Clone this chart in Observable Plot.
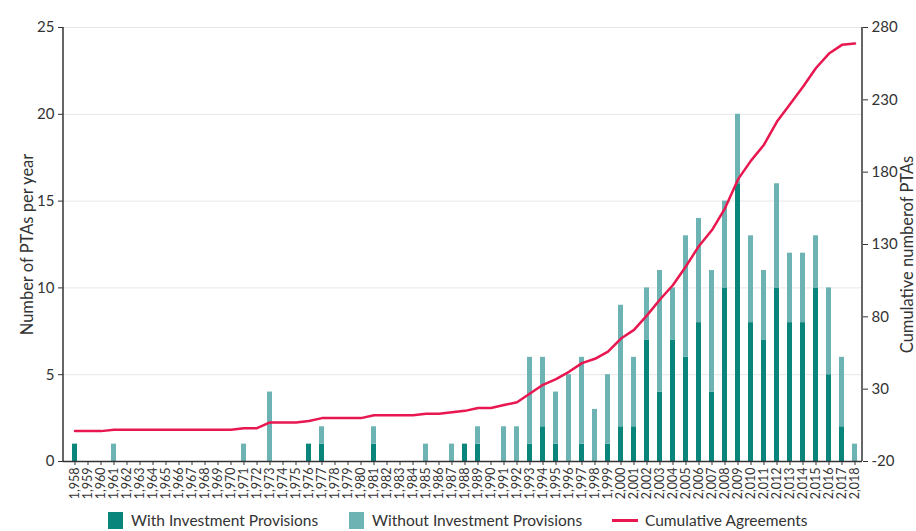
<!DOCTYPE html>
<html><head><meta charset="utf-8">
<script src="https://cdn.jsdelivr.net/npm/d3@7"></script>
<script src="https://cdn.jsdelivr.net/npm/@observablehq/plot@0.6"></script>
<style>
body{margin:0;background:#fff;font-family:Lato,"Open Sans",sans-serif;}
#legend{position:relative;height:29px;width:916px;font-size:15.5px;color:#333;}
#legend .item{position:absolute;top:9px;display:flex;align-items:center;white-space:nowrap;}
#legend .sw{display:inline-block;width:15px;height:17px;margin-right:8px;}
#legend .ln{display:inline-block;width:26px;height:3px;margin-right:7px;}
</style></head><body><div id="chart"></div><div id="legend"></div>
<script>
const years = [1958,1959,1960,1961,1962,1963,1964,1965,1966,1967,1968,1969,1970,1971,1972,1973,1974,1975,1976,1977,1978,1979,1980,1981,1982,1983,1984,1985,1986,1987,1988,1989,1990,1991,1992,1993,1994,1995,1996,1997,1998,1999,2000,2001,2002,2003,2004,2005,2006,2007,2008,2009,2010,2011,2012,2013,2014,2015,2016,2017,2018];
const withInv = [1,0,0,0,0,0,0,0,0,0,0,0,0,0,0,0,0,0,1,1,0,0,0,1,0,0,0,0,0,0,1,1,0,0,0,1,2,1,0,1,0,1,2,2,7,4,7,6,8,4,10,16,8,7,10,8,8,10,5,2,0];
const withoutInv = [0,0,0,1,0,0,0,0,0,0,0,0,0,1,0,4,0,0,0,1,0,0,0,1,0,0,0,1,0,1,0,1,0,2,2,5,4,3,5,5,3,4,7,4,3,7,3,7,6,7,5,4,5,4,6,4,4,3,5,4,1];
const cumulative = [1,1,1,2,2,2,2,2,2,2,2,2,2,3,3,7,7,7,8,10,10,10,10,12,12,12,12,13,13,14,15,17,17,19,21,27,33,37,42,48,51,56,65,71,81,92,102,115,129,140,155,175,188,199,215,227,239,252,262,268,269];
const leftTicks = [0,5,10,15,20,25];
const rightTicks = [-20,30,80,130,180,230,280];
const leftLabel = "Number of PTAs per year";
const rightLabel = "Cumulative numberof PTAs";
const seriesNames = ["With Investment Provisions","Without Investment Provisions","Cumulative Agreements"];
const colors = ["#0a857c","#6db3b4","#e8174f"];

const lMax = leftTicks[leftTicks.length-1];
const rMin = rightTicks[0], rMax = rightTicks[rightTicks.length-1];
const toLeft = v => (v - rMin) * lMax / (rMax - rMin);
const fromLeft = v => v * (rMax - rMin) / lMax + rMin;

const barData = years.flatMap((y,i)=>[
  {year:y, type:seriesNames[0], count:withInv[i]},
  {year:y, type:seriesNames[1], count:withoutInv[i]}
]);
const lineData = years.map((y,i)=>({year:y, cum:cumulative[i]}));

const chart = Plot.plot({
  width:916, height:502, marginTop:27, marginBottom:41, marginLeft:63, marginRight:54,
  style:{fontFamily:"Lato, 'Open Sans', sans-serif", fontSize:"14px", color:"#333", background:"white"},
  x:{type:"band", domain:years, paddingInner:0.62, paddingOuter:0.455, align:0.66},
  y:{domain:[0,lMax]},
  color:{domain:seriesNames.slice(0,2), range:colors.slice(0,2)},
  marks:[
    Plot.gridY(leftTicks.slice(1), {stroke:"#d0d0d0", strokeOpacity:0.5}),
    Plot.barY(barData, {x:"year", y:"count", fill:"type"}),
    Plot.lineY(lineData, {x:"year", y:d=>toLeft(d.cum), stroke:colors[2], strokeWidth:2.5}),
    Plot.axisY({anchor:"left", ticks:leftTicks, tickSize:5, tickPadding:4, fontSize:15, label:null}),
    Plot.axisY({anchor:"right", ticks:rightTicks.map(toLeft), tickFormat:v=>Math.round(fromLeft(v)),
      tickSize:5, tickPadding:4, fontSize:15, label:null}),
    Plot.text([leftLabel], {frameAnchor:"left", rotate:-90, dx:-36, textAnchor:"middle", lineAnchor:"middle", fontSize:16.5, fill:"#333"}),
    Plot.text([rightLabel], {frameAnchor:"right", rotate:-90, dx:45, dy:10, textAnchor:"middle", lineAnchor:"middle", fontSize:16.5, fill:"#333"}),
    Plot.axisX({ticks:years, tickRotate:-90, tickSize:4, tickPadding:2, fontSize:12.5, label:null}),
    Plot.ruleY([0], {stroke:"#333", strokeWidth:1.5})
  ]
});
document.getElementById("chart").appendChild(chart);

// vertical axis lines at frame edges
const xr = chart.scale("x").range, yr = chart.scale("y").range;
const svg = d3.select(chart);
[xr[0], xr[1]].forEach(x => {
  svg.append("line").attr("x1",x).attr("x2",x).attr("y1",yr[0]).attr("y2",yr[1])
    .attr("stroke","#333").attr("stroke-width",1.5);
});

// legend
const leg = document.getElementById("legend");
const legPos = [108, 349, 612];
seriesNames.forEach((name,i)=>{
  const it = document.createElement("div");
  it.className = "item";
  it.style.left = legPos[i] + "px";
  const sw = document.createElement("span");
  sw.className = i < 2 ? "sw" : "ln";
  sw.style.background = colors[i];
  it.appendChild(sw);
  it.appendChild(document.createTextNode(name));
  leg.appendChild(it);
});
</script></body></html>
